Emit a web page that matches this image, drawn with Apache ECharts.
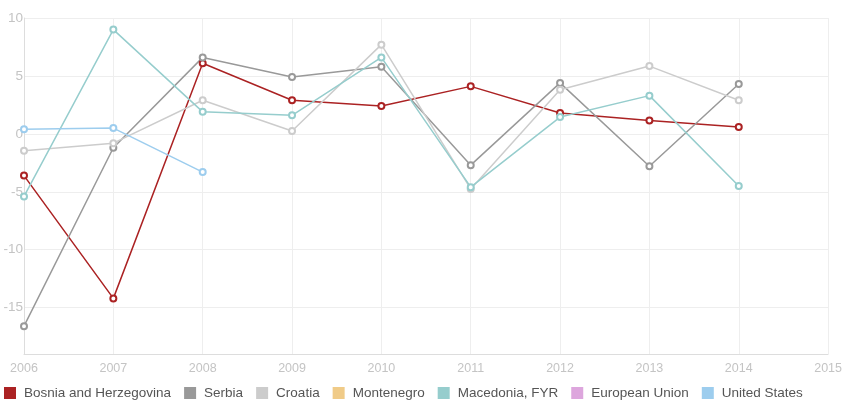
<!DOCTYPE html>
<html>
<head>
<meta charset="utf-8">
<script src="https://cdn.jsdelivr.net/npm/echarts@6/dist/echarts.min.js"></script>
<style>
  html, body { margin: 0; padding: 0; background: #fff; }
  #chart { width: 845px; height: 400px; }
</style>
</head>
<body>
<div id="chart"></div>
<script>
// data
var years = ['2006', '2007', '2008', '2009', '2010', '2011', '2012', '2013', '2014', '2015']
var bosnia = [-3.6, -14.2, 6.1, 2.9, 2.4, 4.1, 1.8, 1.15, 0.6, null]
var serbia = [-16.6, -1.2, 6.6, 4.9, 5.8, -2.7, 4.4, -2.8, 4.3, null]
var croatia = [-1.45, -0.8, 2.9, 0.25, 7.7, -4.75, 3.8, 5.85, 2.9, null]
var montenegro = []
var macedonia = [-5.4, 9.0, 1.9, 1.6, 6.6, -4.6, 1.45, 3.3, -4.5, null]
var eu = []
var us = [0.4, 0.5, -3.3, null, null, null, null, null, null, null]

var names = ['Bosnia and Herzegovina', 'Serbia', 'Croatia', 'Montenegro', 'Macedonia, FYR', 'European Union', 'United States']
var colors = ['#ab2223', '#999999', '#cccccc', '#f0cb88', '#96cdcd', '#dda6dd', '#9dcdee']
var values = [bosnia, serbia, croatia, montenegro, macedonia, eu, us]

var chart = echarts.init(document.getElementById('chart'))

// build series
var series = names.map(function (name, i) {
  return {
    name: name,
    type: 'line',
    data: values[i],
    symbol: 'emptyCircle',
    symbolSize: 6,
    connectNulls: false,
    lineStyle: { width: 1.5, color: colors[i] },
    itemStyle: { color: colors[i], borderWidth: 1.5 },
    emphasis: { disabled: true }
  }
})

var option = {
  animation: false,
  textStyle: { fontFamily: 'Liberation Sans, Arial, sans-serif' },
  grid: { left: 24, right: 14, top: 18, bottom: 46, containLabel: false },
  legend: {
    left: 4,
    top: 386,
    padding: 0,
    itemWidth: 12,
    itemHeight: 12,
    itemGap: 13,
    icon: 'rect',
    textStyle: { color: '#555', fontSize: 13.5, padding: [0, 0, 0, 3] },
    data: names.map(function (n, i) {
      return { name: n, itemStyle: { color: colors[i], borderWidth: 0 } }
    })
  },
  xAxis: {
    type: 'category',
    data: years,
    boundaryGap: false,
    axisLine: { onZero: false, lineStyle: { color: '#dddddd' } },
    axisTick: { show: false },
    axisLabel: { color: '#c4c4c4', fontSize: 12.5, margin: 8 },
    splitLine: { show: true, lineStyle: { color: '#eeeeee' } }
  },
  yAxis: {
    type: 'value',
    min: -19,
    max: 10,
    axisLine: { show: true, lineStyle: { color: '#dddddd' } },
    axisTick: { show: false },
    axisLabel: { color: '#c4c4c4', fontSize: 13.5, margin: 1, showMinLabel: false },
    splitLine: { lineStyle: { color: '#eeeeee' } }
  },
  series: series
}

chart.setOption(option)
</script>
</body>
</html>
